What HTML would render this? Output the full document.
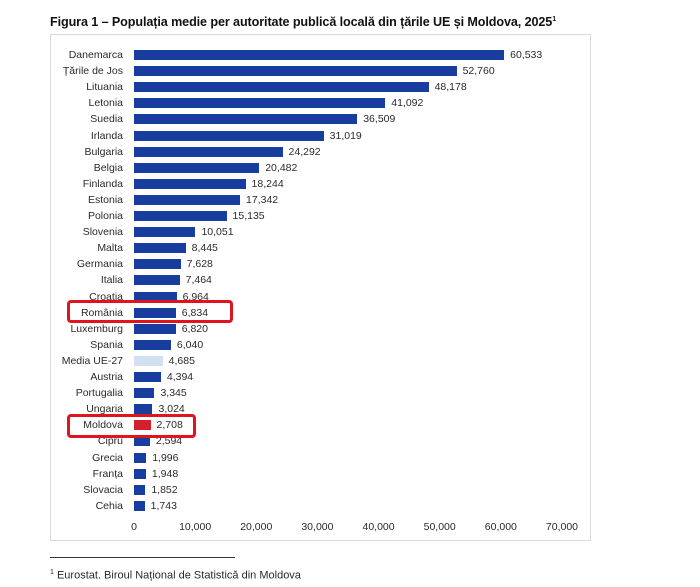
<!DOCTYPE html>
<html><head><meta charset="utf-8"><style>
body{margin:0;width:700px;height:587px;background:#fff;position:relative;overflow:hidden;font-family:"Liberation Sans",sans-serif;color:#2a2a2a}
.t{position:absolute;left:50px;top:15px;font-size:12.6px;font-weight:bold;white-space:nowrap;letter-spacing:-0.1px;color:#111}
.f{position:absolute;left:50px;top:34px;width:541px;height:507px;border:1px solid #d9d9d9;box-sizing:border-box}
.l{position:absolute;right:577px;font-size:10.5px;white-space:nowrap;text-align:right}
.b{position:absolute;left:134px;height:10px;background:#173e9f}
.v{position:absolute;font-size:10.5px}
.x{position:absolute;top:521px;font-size:10.5px;transform:translateX(-50%)}
.r{position:absolute;border:3px solid #e0141e;border-radius:4px;box-sizing:border-box}
</style></head><body>
<div class="t">Figura 1 – Populația medie per autoritate publică locală din țările UE și Moldova, 2025<sup style="font-size:7px">1</sup></div>
<div class="f"></div>
<div id="c"></div>
<div class="r" style="left:67px;top:300px;width:166px;height:23px"></div>
<div class="r" style="left:67px;top:414px;width:129px;height:24px"></div>
<div style="position:absolute;left:50px;top:557px;width:185px;height:1px;background:#333"></div>
<div style="position:absolute;left:50px;top:569px;font-size:11px"><sup style="font-size:7px">1</sup> Eurostat. Biroul Național de Statistică din Moldova</div>
<script>
var d=[["Danemarca",60533],["Țările de Jos",52760],["Lituania",48178],["Letonia",41092],["Suedia",36509],["Irlanda",31019],["Bulgaria",24292],["Belgia",20482],["Finlanda",18244],["Estonia",17342],["Polonia",15135],["Slovenia",10051],["Malta",8445],["Germania",7628],["Italia",7464],["Croatia",6964],["România",6834],["Luxemburg",6820],["Spania",6040],["Media UE-27",4685],["Austria",4394],["Portugalia",3345],["Ungaria",3024],["Moldova",2708],["Cipru",2594],["Grecia",1996],["Franța",1948],["Slovacia",1852],["Cehia",1743]];
var h="",k=428/70000;
d.forEach(function(e,i){var y=50+16.1*i,w=e[1]*k;
var c=e[0]=="Media UE-27"?"#d3dff2":e[0]=="Moldova"?"#d2202f":"#173e9f";
h+='<div class="l" style="top:'+(y-1)+'px">'+e[0]+'</div><div class="b" style="top:'+y+'px;width:'+w+'px;background:'+c+'"></div><div class="v" style="left:'+(134+w+6)+'px;top:'+(y-1)+'px">'+e[1].toLocaleString("en-US")+'</div>';});
for(var i=0;i<=7;i++)h+='<div class="x" style="left:'+(134+i*61.14)+'px">'+(i*10000).toLocaleString("en-US")+'</div>';
document.getElementById("c").innerHTML=h;
</script>
</body></html>
